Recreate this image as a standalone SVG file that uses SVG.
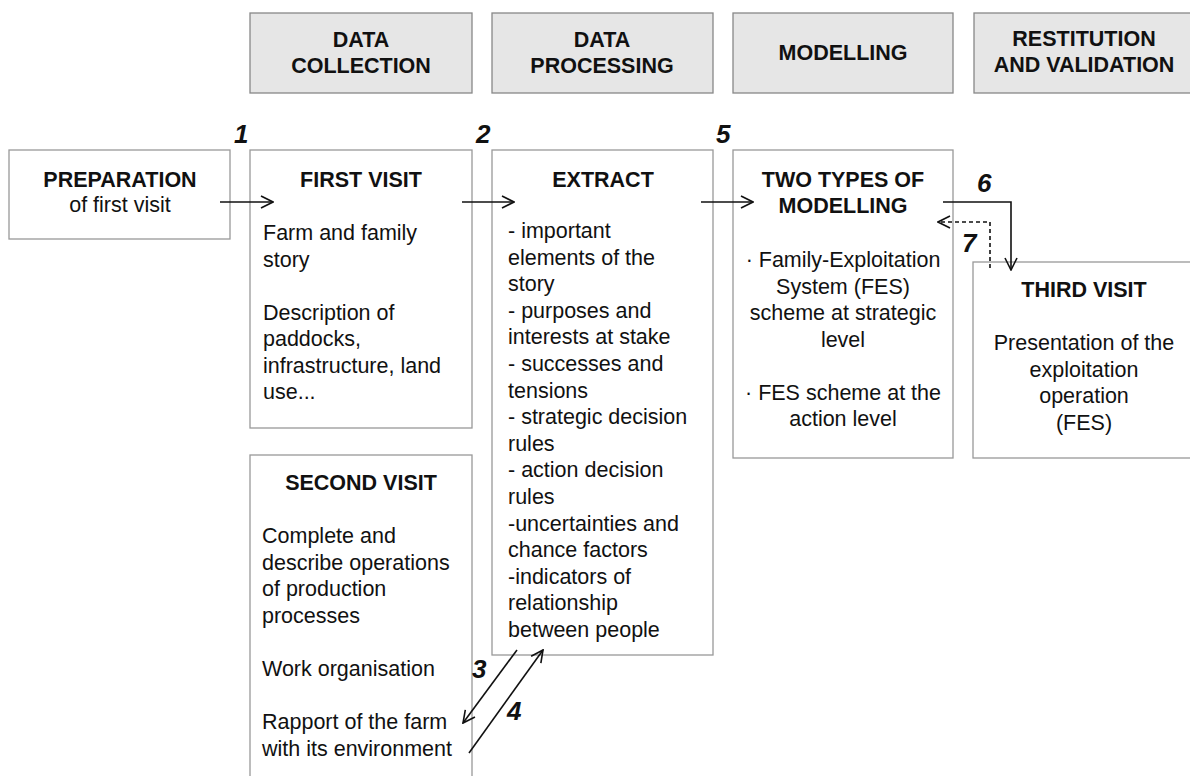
<svg xmlns="http://www.w3.org/2000/svg" width="1190" height="776" viewBox="0 0 1190 776">
<style>
text{font-family:"Liberation Sans",Arial,sans-serif;font-size:21.5px;fill:#111}
.b{font-weight:bold}
.c{text-anchor:middle}
.n{font-weight:bold;font-style:italic;font-size:26px}
.hdr{fill:#e6e6e6;stroke:#888;stroke-width:1.3}
.box{fill:#fff;stroke:#999;stroke-width:1.3}
.ln{fill:none;stroke:#111;stroke-width:1.6}
.ds{fill:none;stroke:#111;stroke-width:1.6;stroke-dasharray:4 3}
</style>
<defs>
<marker id="ah" viewBox="0 0 14 14" refX="13" refY="7" markerWidth="14" markerHeight="14" markerUnits="userSpaceOnUse" orient="auto">
<path d="M1,1 L13,7 L1,13" fill="none" stroke="#111" stroke-width="1.6"/>
</marker>
</defs>
<rect width="1190" height="776" fill="#fff"/>
<g id="h-collection"><rect class="hdr" x="250" y="13" width="222" height="80"/><text class="b c" x="361" y="47">DATA</text><text class="b c" x="361" y="73">COLLECTION</text></g>
<g id="h-processing"><rect class="hdr" x="492" y="13" width="221" height="80"/><text class="b c" x="602" y="47">DATA</text><text class="b c" x="602" y="73">PROCESSING</text></g>
<g id="h-modelling"><rect class="hdr" x="733" y="13" width="220" height="80"/><text class="b c" x="843" y="60">MODELLING</text></g>
<g id="h-restitution"><rect class="hdr" x="974" y="13" width="222" height="80"/><text class="b c" x="1084" y="46">RESTITUTION</text><text class="b c" x="1084" y="72">AND VALIDATION</text></g>

<g id="preparation"><rect class="box" x="9" y="150" width="221" height="89"/><text class="b c" x="120" y="187">PREPARATION</text><text class="c" x="120" y="212">of first visit</text></g>

<g id="first-visit"><rect class="box" x="250" y="150" width="222" height="278"/><text class="b c" x="361" y="187">FIRST VISIT</text>
<text x="263" y="240">Farm and family</text><text x="263" y="266.5">story</text>
<text x="263" y="319.5">Description of</text><text x="263" y="346">paddocks,</text><text x="263" y="372.5">infrastructure, land</text><text x="263" y="399">use...</text></g>

<g id="extract"><rect class="box" x="492" y="150" width="221" height="505"/><text class="b c" x="603" y="187">EXTRACT</text>
<text x="508" y="238">- important</text><text x="508" y="264.6">elements of the</text><text x="508" y="291.2">story</text><text x="508" y="317.8">- purposes and</text><text x="508" y="344.4">interests at stake</text><text x="508" y="371">- successes and</text><text x="508" y="397.6">tensions</text><text x="508" y="424.2">- strategic decision</text><text x="508" y="450.8">rules</text><text x="508" y="477.4">- action decision</text><text x="508" y="504">rules</text><text x="508" y="530.6">-uncertainties and</text><text x="508" y="557.2">chance factors</text><text x="508" y="583.8">-indicators of</text><text x="508" y="610.4">relationship</text><text x="508" y="637">between people</text></g>

<g id="two-types"><rect class="box" x="733" y="150" width="220" height="308"/><text class="b c" x="843" y="187">TWO TYPES OF</text><text class="b c" x="843" y="213">MODELLING</text>
<text class="c" x="843" y="267">· Family-Exploitation</text><text class="c" x="843" y="293.5">System (FES)</text><text class="c" x="843" y="320">scheme at strategic</text><text class="c" x="843" y="346.5">level</text>
<text class="c" x="843" y="399.5">· FES scheme at the</text><text class="c" x="843" y="426">action level</text></g>

<g id="third-visit"><rect class="box" x="973" y="262" width="224" height="196"/><text class="b c" x="1084" y="297">THIRD VISIT</text>
<text class="c" x="1084" y="350">Presentation of the</text><text class="c" x="1084" y="376.5">exploitation</text><text class="c" x="1084" y="403">operation</text><text class="c" x="1084" y="429.5">(FES)</text></g>

<g id="second-visit"><rect class="box" x="250" y="455" width="222" height="330"/><text class="b c" x="361" y="490">SECOND VISIT</text>
<text x="262" y="543">Complete and</text><text x="262" y="569.6">describe operations</text><text x="262" y="596.2">of production</text><text x="262" y="622.8">processes</text>
<text x="262" y="676">Work organisation</text>
<text x="262" y="729">Rapport of the farm</text><text x="262" y="755.6">with its environment</text></g>

<g id="connectors">
<line class="ln" x1="220" y1="202" x2="273" y2="202" marker-end="url(#ah)"/>
<line class="ln" x1="462" y1="202" x2="514" y2="202" marker-end="url(#ah)"/>
<line class="ln" x1="701" y1="202" x2="753" y2="202" marker-end="url(#ah)"/>
<polyline class="ln" points="943,202 1011,202 1011,270" marker-end="url(#ah)"/>
<polyline class="ds" points="990,268 990,222 938,222" marker-end="url(#ah)"/>
<line class="ln" x1="517" y1="650" x2="463" y2="723" marker-end="url(#ah)"/>
<line class="ln" x1="469" y1="753" x2="543" y2="650" marker-end="url(#ah)"/>
</g>
<g id="labels">
<text class="n" x="234" y="143">1</text>
<text class="n" x="476" y="143">2</text>
<text class="n" x="716" y="143">5</text>
<text class="n" x="977" y="192">6</text>
<text class="n" x="962" y="252">7</text>
<text class="n" x="472" y="678">3</text>
<text class="n" x="507" y="720">4</text>
</g>
</svg>
